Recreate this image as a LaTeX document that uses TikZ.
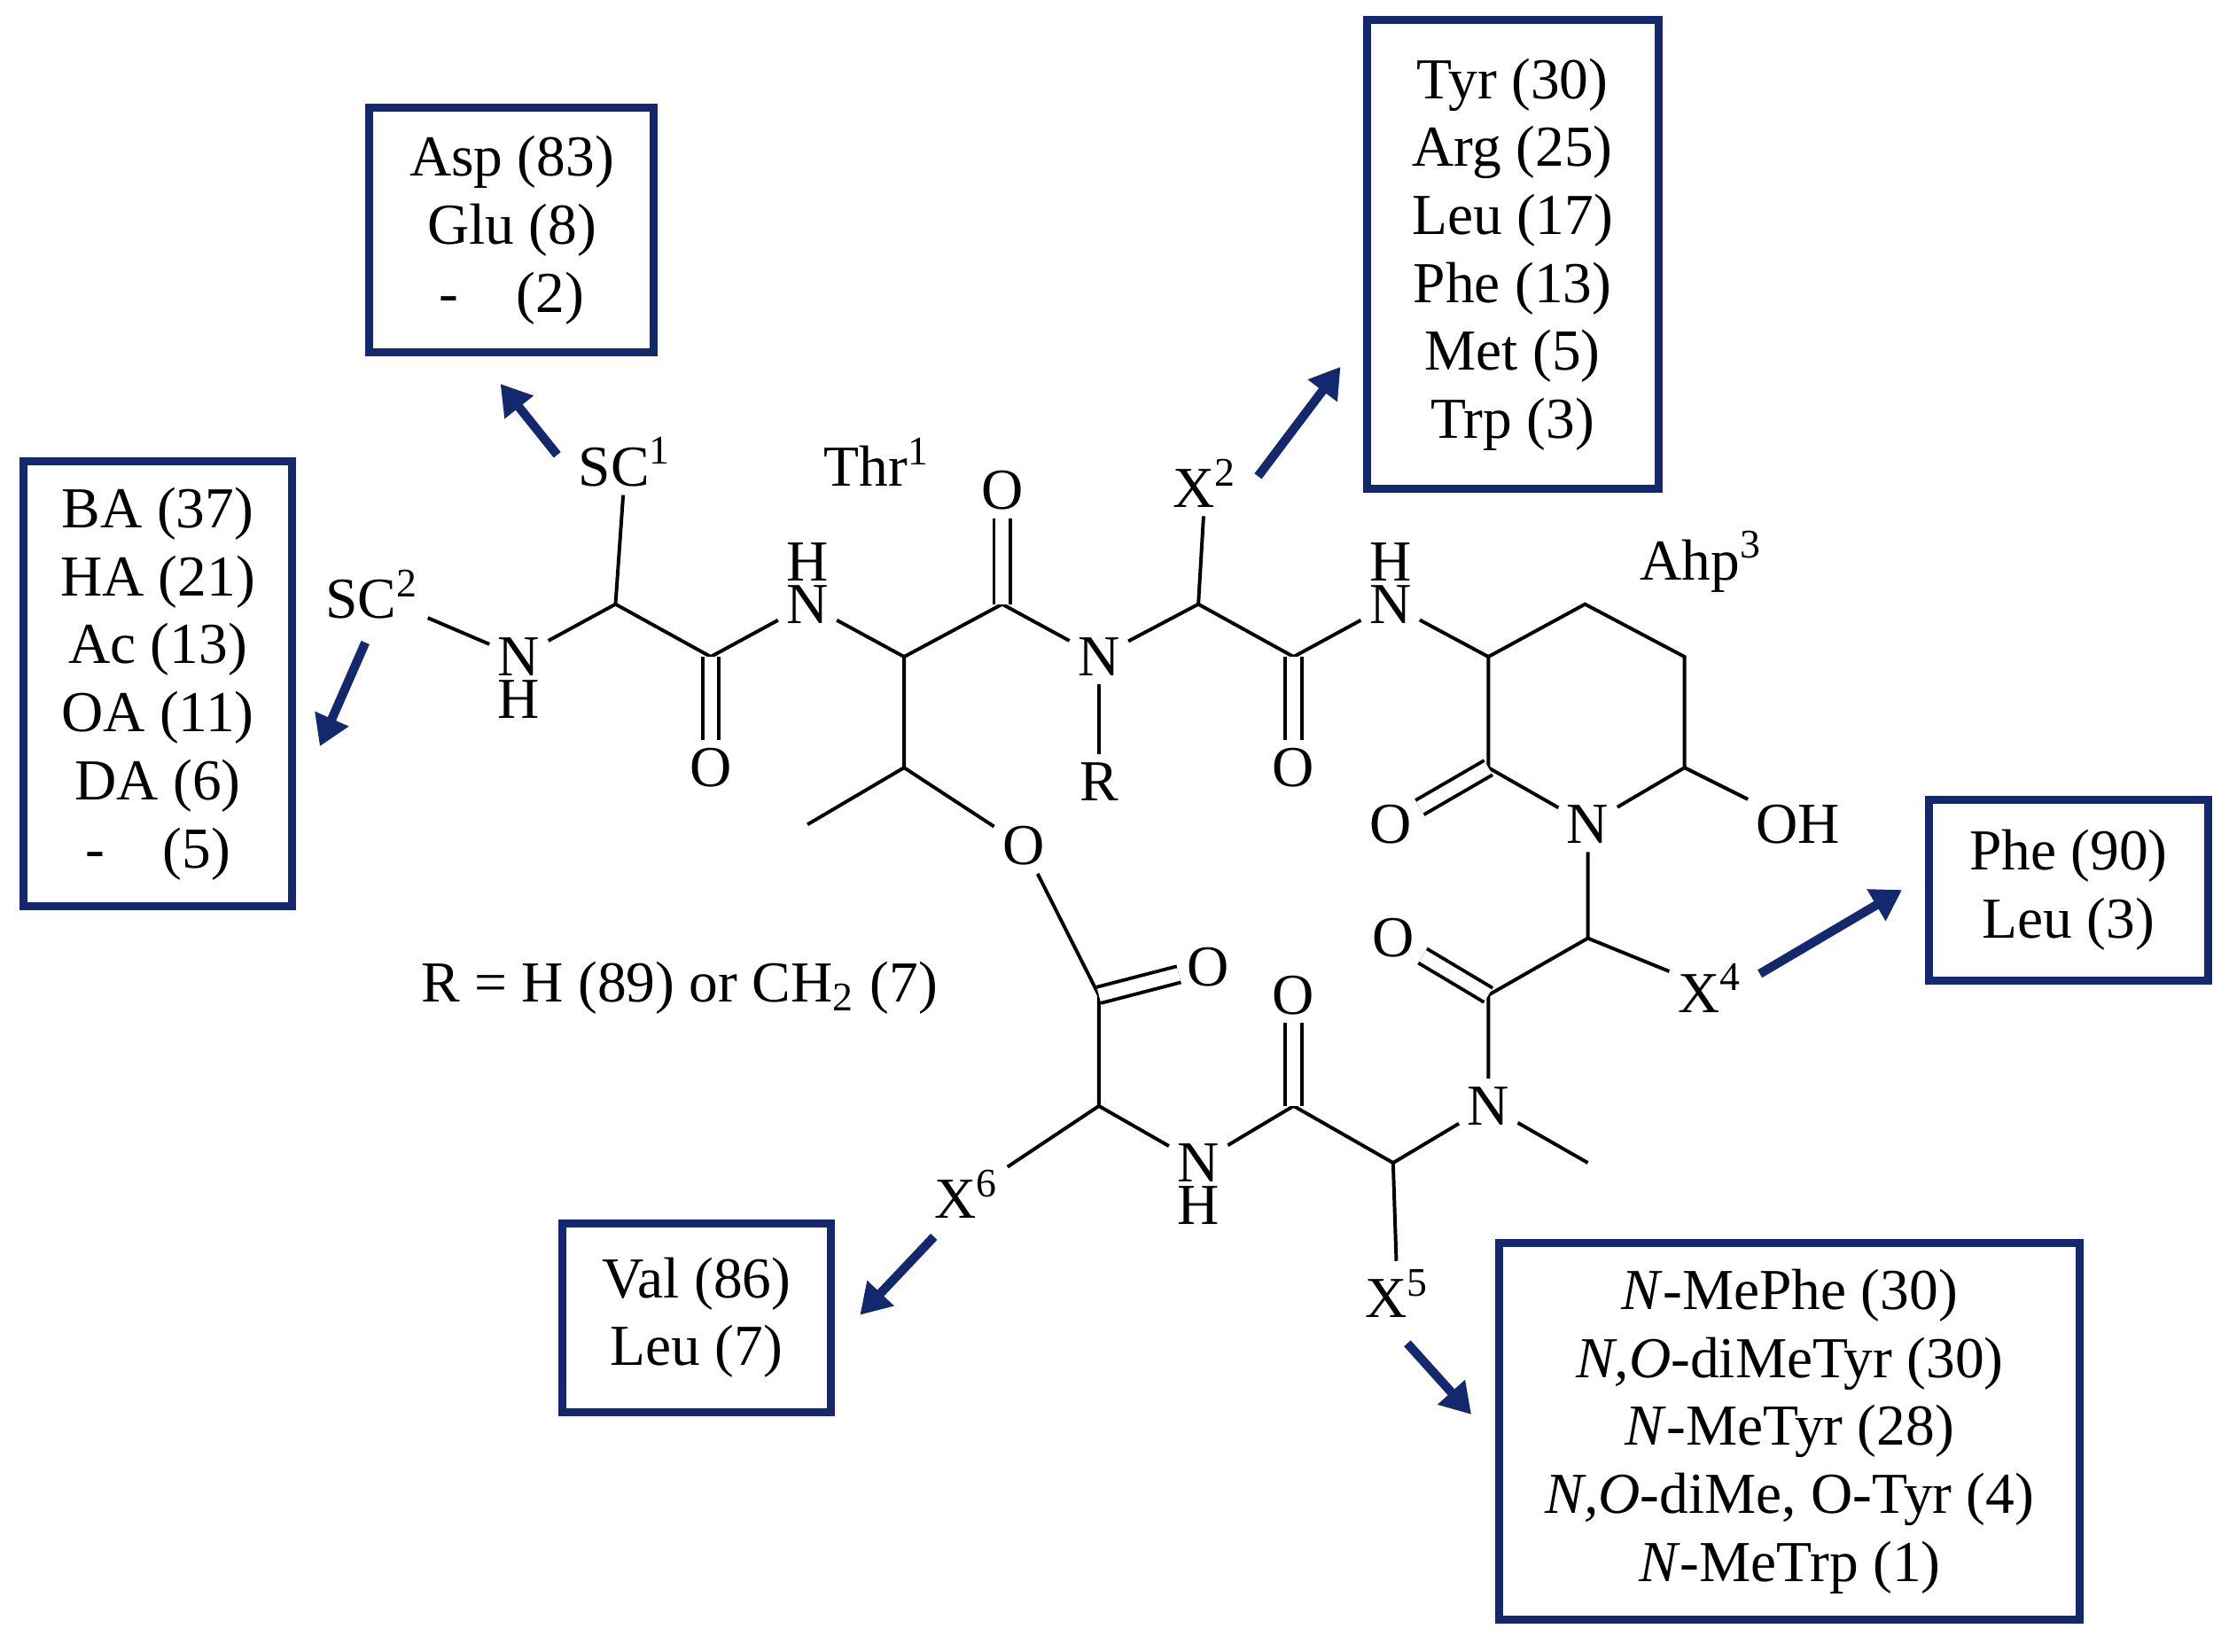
\documentclass[tikz,border=0pt]{standalone}
\usepackage{fontspec}
\setmainfont{Liberation Serif}
\usetikzlibrary{arrows.meta}
\definecolor{navy}{RGB}{20,40,110}
\begin{document}
\begin{tikzpicture}[x=0.01cm,y=-0.01cm,
  every node/.style={font=\fontsize{11.6}{13.6}\selectfont},
  atom/.style={inner sep=1.5pt},
  bd/.style={line width=0.7pt},
  dbl/.style={line width=0.7pt,double,double distance=2.6pt},
  box/.style={draw=navy,line width=1.6pt,align=center,inner sep=0pt},
  arr/.style={draw=navy,line width=1.8pt,-{Triangle[length=6pt,width=7pt]}}]
\useasboundingbox (0,0) rectangle (1568,1162);
% atoms
\coordinate (c1) at (433,425);
\node[atom] (n1) at (365,462) {N};
\node[atom] at (365,492) {H};
\coordinate (c2) at (500,462);
\node[atom] (o1) at (500,540) {O};
\node[atom] (n2) at (568,425) {N};
\node[atom] at (568,395) {H};
\coordinate (c3) at (636,462);
\coordinate (c4) at (705,425);
\node[atom] (o2) at (705,345) {O};
\node[atom] (n3) at (773,462) {N};
\node[atom] (r) at (773,550) {R};
\coordinate (c5) at (843,425);
\node[atom] (x2) at (848,340) {X\textsuperscript{2}};
\coordinate (c6) at (910,462);
\node[atom] (o3) at (910,540) {O};
\node[atom] (n4) at (978,425) {N};
\node[atom] at (978,395) {H};
\coordinate (r1) at (1047,462);
\coordinate (r2) at (1115,425);
\coordinate (r3) at (1185,462);
\coordinate (r4) at (1185,540);
\node[atom] (n5) at (1117,580) {N};
\coordinate (r6) at (1047,540);
\node[atom] (o4) at (978,580) {O};
\node[atom] (oh) at (1265,580) {OH};
\coordinate (c7) at (1117,660);
\node[atom] (x4) at (1203,695) {X\textsuperscript{4}};
\coordinate (c8) at (1047,700);
\node[atom] (o5) at (980,660) {O};
\node[atom] (n6) at (1047,778) {N};
\coordinate (me) at (1117,818);
\coordinate (c9) at (980,818);
\node[atom] (x5) at (983,910) {X\textsuperscript{5}};
\coordinate (c10) at (910,778);
\node[atom] (o6) at (910,700) {O};
\node[atom] (n7) at (843,818) {N};
\node[atom] at (843,848) {H};
\coordinate (c11) at (773,778);
\node[atom] (x6) at (680,840) {X\textsuperscript{6}};
\coordinate (c12) at (773,700);
\node[atom] (o7) at (850,680) {O};
\node[atom] (o8) at (720,595) {O};
\coordinate (c13) at (636,540);
\coordinate (me2) at (568,580);
\node[atom] (sc1) at (440,325) {SC\textsuperscript{1}};
\node[atom] (sc2) at (262,418) {SC\textsuperscript{2}};
\node at (617,325) {Thr\textsuperscript{1}};
\node at (1197,395) {Ahp\textsuperscript{3}};
\node at (478,695) {R = H (89) or CH\textsubscript{2} (7)};
% bonds
\draw[bd] (sc1) -- (c1);
\draw[bd] (sc2) -- (n1) -- (c1) -- (c2) -- (n2) -- (c3) -- (c4) -- (n3) -- (c5) -- (c6) -- (n4) -- (r1);
\draw[bd] (c5) -- (x2);
\draw[bd] (n3) -- (r);
\draw[bd] (r1) -- (r2) -- (r3) -- (r4) -- (n5) -- (r6) -- (r1);
\draw[bd] (r4) -- (oh);
\draw[bd] (n5) -- (c7) -- (x4);
\draw[bd] (c7) -- (c8) -- (n6) -- (me);
\draw[bd] (n6) -- (c9) -- (x5);
\draw[bd] (c9) -- (c10) -- (n7) -- (c11) -- (x6);
\draw[bd] (c11) -- (c12) -- (o8) -- (c13) -- (c3);
\draw[bd] (c13) -- (me2);
\draw[dbl] (c2) -- (o1);
\draw[dbl] (c4) -- (o2);
\draw[dbl] (c6) -- (o3);
\draw[dbl] (r6) -- (o4);
\draw[dbl] (c8) -- (o5);
\draw[dbl] (c10) -- (o6);
\draw[dbl] (c12) -- (o7);
% boxes
\node[box,minimum width=2.00cm,minimum height=1.72cm] (b1) at (360,162) {Asp (83)\\Glu (8)\\-\quad(2)};
\node[box,minimum width=2.05cm,minimum height=3.30cm] (b2) at (1064,179) {Tyr (30)\\Arg (25)\\Leu (17)\\Phe (13)\\Met (5)\\Trp (3)};
\node[box,minimum width=1.89cm,minimum height=3.13cm] (b3) at (111,481) {BA (37)\\HA (21)\\Ac (13)\\OA (11)\\DA (6)\\-\quad(5)};
\node[box,minimum width=1.96cm,minimum height=1.27cm] (b4) at (1455,626) {Phe (90)\\Leu (3)};
\node[box,minimum width=1.89cm,minimum height=1.33cm] (b5) at (490,927) {Val (86)\\Leu (7)};
\node[box,minimum width=4.08cm,minimum height=2.65cm] (b6) at (1259,1007) {\textit{N}-MePhe (30)\\\textit{N,O}-diMeTyr (30)\\\textit{N}-MeTyr (28)\\\textit{N,O}-diMe, O-Tyr (4)\\\textit{N}-MeTrp (1)};
% arrows
\coordinate (a1s) at (392,320); \coordinate (a1e) at (352,270);
\coordinate (a2s) at (885,335); \coordinate (a2e) at (943,258);
\coordinate (a3s) at (257,452); \coordinate (a3e) at (225,525);
\coordinate (a4s) at (1238,685); \coordinate (a4e) at (1338,626);
\coordinate (a5s) at (657,870); \coordinate (a5e) at (605,925);
\coordinate (a6s) at (990,945); \coordinate (a6e) at (1035,995);
\draw[arr] (a1s) -- (a1e);
\draw[arr] (a2s) -- (a2e);
\draw[arr] (a3s) -- (a3e);
\draw[arr] (a4s) -- (a4e);
\draw[arr] (a5s) -- (a5e);
\draw[arr] (a6s) -- (a6e);
\end{tikzpicture}
\end{document}
